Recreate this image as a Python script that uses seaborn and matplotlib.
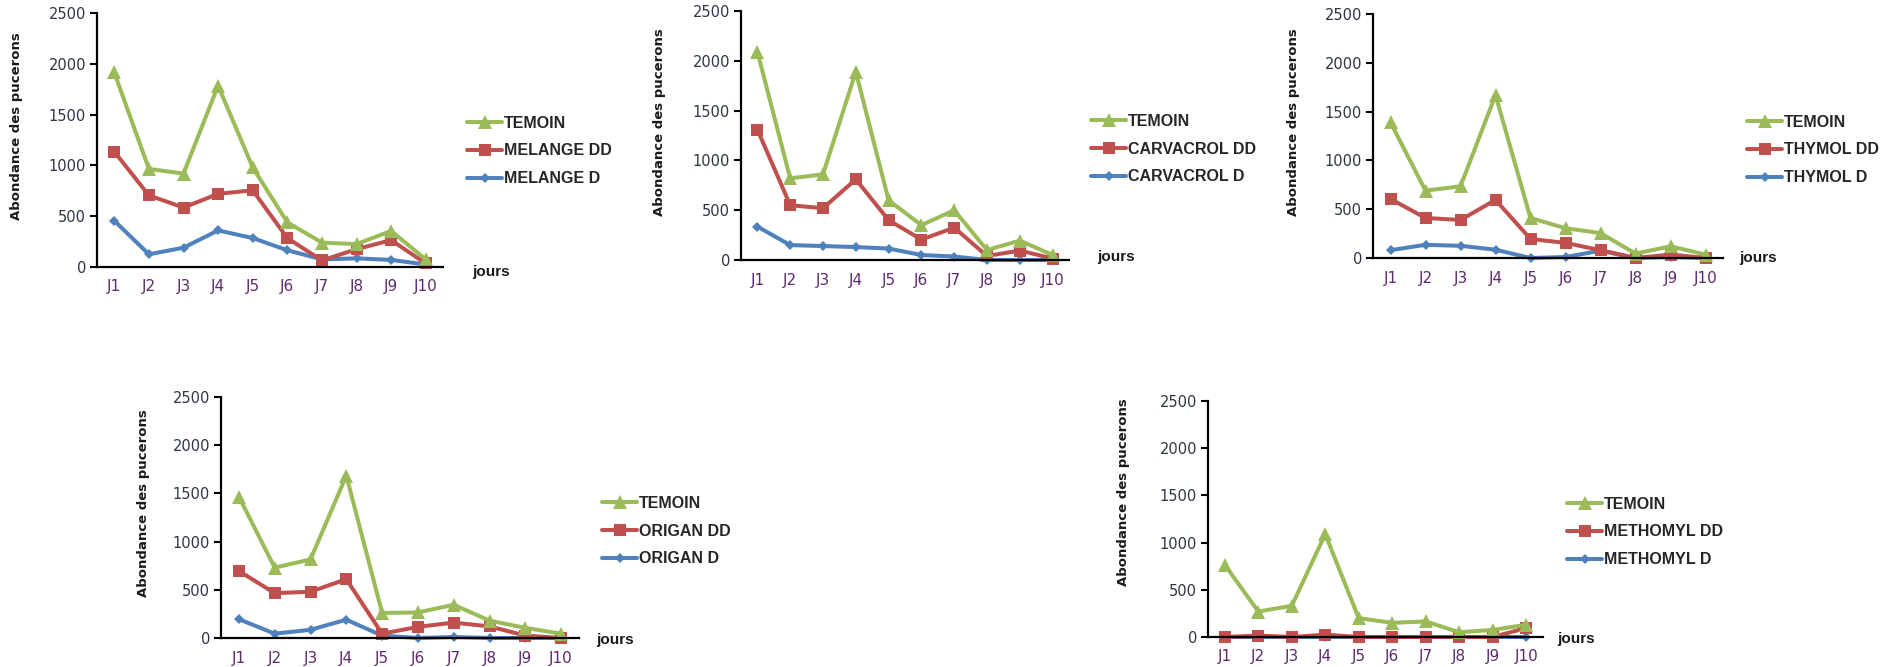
import matplotlib
matplotlib.use('Agg')
import matplotlib.pyplot as plt
import pandas as pd
import seaborn as sns

sns.set_theme(style='white')
plt.rcParams['font.family'] = ['DejaVu Sans']

jours = ['J1', 'J2', 'J3', 'J4', 'J5', 'J6', 'J7', 'J8', 'J9', 'J10']

melange_temoin = [1915, 965, 920, 1785, 980, 440, 240, 225, 355, 75]
melange_dd = [1135, 705, 585, 720, 755, 285, 65, 175, 265, 35]
melange_d = [455, 125, 190, 360, 285, 165, 75, 85, 70, 25]

carvacrol_temoin = [2090, 820, 860, 1890, 600, 350, 500, 100, 195, 50]
carvacrol_dd = [1310, 550, 520, 810, 400, 205, 325, 40, 95, 15]
carvacrol_d = [335, 150, 140, 130, 115, 50, 35, 0, 0, 0]

thymol_temoin = [1390, 690, 735, 1670, 410, 305, 255, 45, 120, 35]
thymol_dd = [605, 410, 390, 595, 195, 155, 80, 0, 35, 0]
thymol_d = [80, 135, 125, 85, 0, 10, 75, 0, 10, 0]

origan_temoin = [1465, 730, 815, 1685, 260, 265, 345, 180, 105, 45]
origan_dd = [695, 465, 480, 610, 45, 115, 160, 120, 25, 0]
origan_d = [195, 45, 85, 190, 25, 0, 10, 0, 0, 0]

methomyl_temoin = [765, 270, 330, 1090, 200, 150, 165, 50, 75, 130]
methomyl_dd = [0, 15, 0, 25, 0, 0, 0, 0, 0, 95]
methomyl_d = [0, 0, 0, 0, 0, 0, 0, 0, 0, 0]

series = [
    (melange_temoin, melange_dd, melange_d),
    (carvacrol_temoin, carvacrol_dd, carvacrol_d),
    (thymol_temoin, thymol_dd, thymol_d),
    (origan_temoin, origan_dd, origan_d),
    (methomyl_temoin, methomyl_dd, methomyl_d),
]
legend_names = [
    ('TEMOIN', 'MELANGE DD', 'MELANGE D'),
    ('TEMOIN', 'CARVACROL DD', 'CARVACROL D'),
    ('TEMOIN', 'THYMOL DD', 'THYMOL D'),
    ('TEMOIN', 'ORIGAN DD', 'ORIGAN D'),
    ('TEMOIN', 'METHOMYL DD', 'METHOMYL D'),
]

W, H = 1895, 667
# pixel layout: axes box (left, top, right, bottom), legend anchor, ylabel centre, "jours" offset
axes_px = [(97, 13, 443, 267), (741, 11, 1069, 260), (1373, 14, 1723, 258),
           (221, 397, 579, 638), (1208, 401, 1543, 637)]
legend_px = [(467, 151), (1091, 149), (1747, 150), (602, 531), (1567, 532)]
ylabel_px = [(23, 126), (666, 122), (1300, 122), (150, 503), (1130, 492)]
jours_off = [(29, -5), (28, 3), (16, 0), (17, -2), (14, -2)]

green = '#9BBB59'
red = '#C0504D'
blue = '#4F81BD'

fig = plt.figure(figsize=(W / 100, H / 100), dpi=100)

for i, (temoin, dd, d) in enumerate(series):
    l, t, r, b = axes_px[i]
    ax = fig.add_axes([l / W, 1 - b / H, (r - l) / W, (b - t) / H])
    df = pd.DataFrame({'jour': jours, 'temoin': temoin, 'dd': dd, 'd': d})
    noms = legend_names[i]

    sns.lineplot(data=df, x='jour', y='d', color=blue, marker='D', markersize=5.5,
                 markeredgewidth=0, linewidth=2.9, sort=False, label=noms[2], ax=ax, clip_on=False)
    sns.lineplot(data=df, x='jour', y='dd', color=red, marker='s', markersize=8,
                 markeredgewidth=0, linewidth=2.9, sort=False, label=noms[1], ax=ax, clip_on=False)
    sns.lineplot(data=df, x='jour', y='temoin', color=green, marker='^', markersize=9.5,
                 markeredgewidth=0, linewidth=2.9, sort=False, label=noms[0], ax=ax, clip_on=False)

    ax.set_xlim(-0.5, 9.5)
    ax.set_ylim(0, 2500)
    ax.set_yticks(range(0, 2501, 500))
    ax.set_xticks(range(10))
    ax.set_xticklabels(jours)
    ax.set_xticks([k - 0.5 for k in range(11)], minor=True)
    ax.tick_params(axis='x', which='major', length=0, pad=9, labelsize=11, labelcolor='#5e2a6e')
    ax.tick_params(axis='x', which='minor', length=5, width=1.5, direction='out', color='black')
    ax.tick_params(axis='y', length=5, width=1.5, direction='out', pad=3, labelsize=10.5,
                   labelcolor='#2f3548', color='black', left=True)
    for s in ['top', 'right']:
        ax.spines[s].set_visible(False)
    for s in ['left', 'bottom']:
        ax.spines[s].set_color('black')
        ax.spines[s].set_linewidth(1.6)
    ax.set_xlabel('')
    ax.set_ylabel('Abondance des pucerons', fontsize=9.5, fontweight='bold', color='#1a1a1a')
    yx, yy = ylabel_px[i]
    ax.yaxis.set_label_coords(yx / W, 1 - yy / H, transform=fig.transFigure)

    dx, dy = jours_off[i]
    ax.annotate('jours', xy=(1, 0), xycoords='axes fraction', xytext=(dx, dy),
                textcoords='offset pixels', ha='left', va='center',
                fontsize=11, fontweight='bold', family='Liberation Sans', color='#1a1a1a')

    handles, labels = ax.get_legend_handles_labels()
    lx, ly = legend_px[i]
    ax.legend(handles[::-1], labels[::-1], loc='center left',
              bbox_to_anchor=(lx / W, 1 - ly / H), bbox_transform=fig.transFigure,
              frameon=False, prop={'family': 'Liberation Sans', 'weight': 'bold', 'size': 11.5},
              handlelength=2.2, handletextpad=0.1, labelspacing=0.8,
              borderpad=0, borderaxespad=0)

fig.savefig('out.png', dpi=100, facecolor='white')
